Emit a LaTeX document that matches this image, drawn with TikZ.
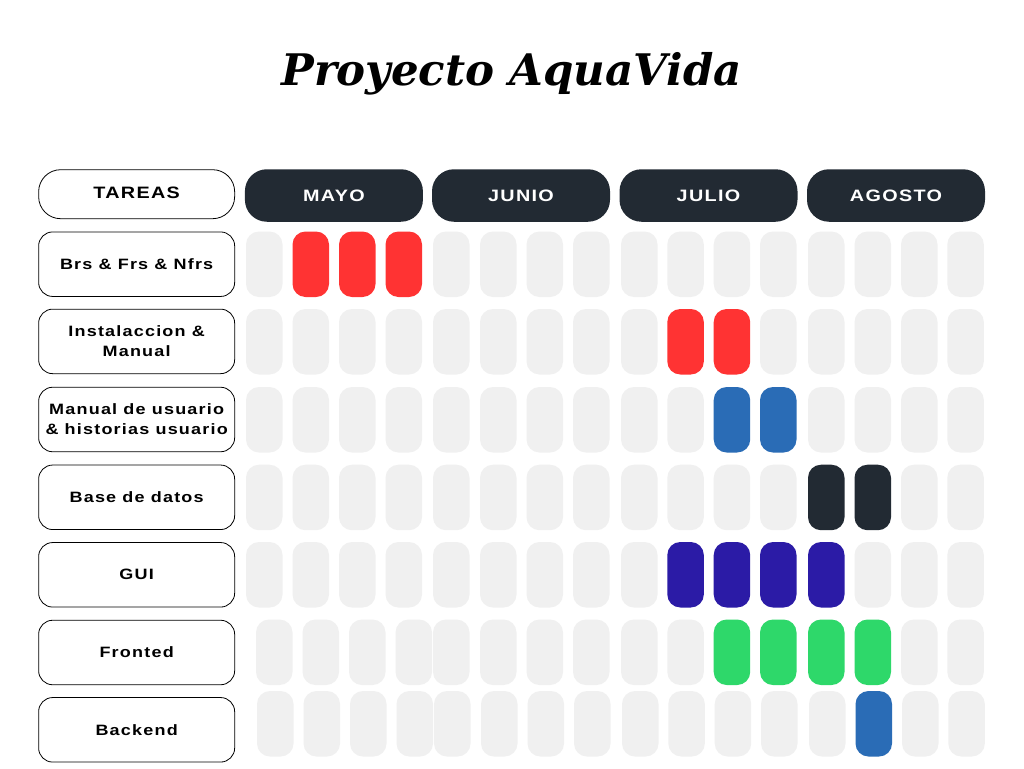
\documentclass[tikz,border=0pt]{standalone}
\usepackage{fontspec}
\setmainfont{Liberation Sans}
\newfontfamily\titlefont{DejaVu Serif}
\newfontfamily\lblfont{Liberation Sans}[FakeStretch=1.2, LetterSpace=8]
\definecolor{cG}{HTML}{F0F0F0}
\definecolor{cR}{HTML}{FF3333}
\definecolor{cB}{HTML}{2A6CB6}
\definecolor{cD}{HTML}{222A33}
\definecolor{cI}{HTML}{2B1BA6}
\definecolor{cN}{HTML}{2ED86A}
\def\colL{{246,292.5,339,385.5,433,480,526.5,573,621,667.3,713.7,760,808,854.5,901,947.3}}
\newcommand\cellrow[5]{%
  \foreach \c [count=\k] in {#5} {
    \pgfmathsetmacro\cx{\colL[\k-1]+18.25+#4+(\k<5)*#3}
    \node[cell, fill=\c] (#1-\k) at (\cx, #2+32.75) {};
  }}
\begin{document}
\begin{tikzpicture}[x=1pt, y=-1pt,
  cell/.style={minimum width=36.5pt, minimum height=65.5pt, rounded corners=13pt, inner sep=0pt, draw=none},
  task/.style={draw=black, line width=0.8pt, rounded corners=14pt, minimum width=196pt, minimum height=64.5pt, align=center, inner sep=0pt,
    font=\lblfont\bfseries\fontsize{15}{20}\selectfont},
  header/.style={draw=black, line width=0.8pt, rounded corners=22pt, minimum width=196pt, minimum height=49pt, inner sep=0pt,
    font=\lblfont\bfseries\fontsize{16.5}{20}\selectfont},
  month/.style={fill=cD, rounded corners=22pt, minimum width=178pt, minimum height=52.5pt, inner sep=0pt, text=white,
    font=\lblfont\bfseries\fontsize{16.5}{20}\selectfont}]
\useasboundingbox (0,0) rectangle (1024,768);
\fill[white] (0,0) rectangle (1024,768);
\node[anchor=base, font=\titlefont\bfseries\itshape\fontsize{43.5}{50}\selectfont] (title) at (511.5,85) {Proyecto AquaVida};
% header
\node[header] (tareas) at (136.65,194.2) {\raisebox{2pt}{TAREAS}};
\node[month] (mayo) at (333.9,195.5) {MAYO};
\node[month] (junio) at (521,195.5) {JUNIO};
\node[month] (julio) at (708.5,195.5) {JULIO};
\node[month] (agosto) at (896,195.5) {AGOSTO};
% tasks
\node[task] (t1) at (136.65,264.2) {Brs \& Frs \& Nfrs};
\node[task] (t2) at (136.65,341.4) {Instalaccion \&\\Manual};
\node[task] (t3) at (136.65,419.5) {Manual de usuario\\\& historias usuario};
\node[task] (t4) at (136.65,497.3) {Base de datos};
\node[task] (t5) at (136.65,574.8) {GUI};
\node[task] (t6) at (136.65,652.5) {Fronted};
\node[task] (t7) at (136.65,729.8) {Backend};
% cells
\cellrow{r1}{231.5}{0}{0}{cG,cR,cR,cR,cG,cG,cG,cG,cG,cG,cG,cG,cG,cG,cG,cG}
\cellrow{r2}{309}{0}{0}{cG,cG,cG,cG,cG,cG,cG,cG,cG,cR,cR,cG,cG,cG,cG,cG}
\cellrow{r3}{387}{0}{0}{cG,cG,cG,cG,cG,cG,cG,cG,cG,cG,cB,cB,cG,cG,cG,cG}
\cellrow{r4}{464.7}{0}{0}{cG,cG,cG,cG,cG,cG,cG,cG,cG,cG,cG,cG,cD,cD,cG,cG}
\cellrow{r5}{542}{0}{0}{cG,cG,cG,cG,cG,cG,cG,cG,cG,cI,cI,cI,cI,cG,cG,cG}
\cellrow{r6}{619.5}{10}{0}{cG,cG,cG,cG,cG,cG,cG,cG,cG,cG,cN,cN,cN,cN,cG,cG}
\cellrow{r7}{691}{10}{1}{cG,cG,cG,cG,cG,cG,cG,cG,cG,cG,cG,cG,cG,cB,cG,cG}
\end{tikzpicture}
\end{document}
